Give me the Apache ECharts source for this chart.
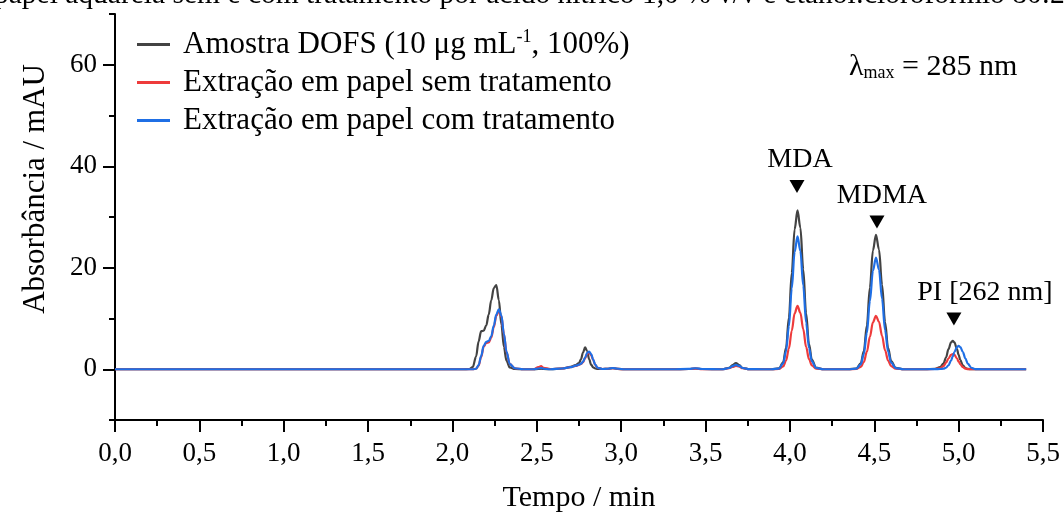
<!DOCTYPE html>
<html>
<head>
<meta charset="utf-8">
<script src="https://cdn.jsdelivr.net/npm/echarts@6/dist/echarts.min.js"></script>
<style>
  html, body { margin: 0; padding: 0; background: #ffffff; }
  #chart { width: 1064px; height: 514px; }
</style>
</head>
<body>
<div id="chart"></div>
<script>
// Retention times (min) shared by the three chromatograms
const times = [
  0, 0.5, 1.0, 1.5, 2.0, 2.06,
  2.10, 2.12, 2.14, 2.155, 2.17, 2.185, 2.20, 2.215, 2.23, 2.245, 2.26, 2.275, 2.29, 2.305, 2.32, 2.34, 2.37, 2.42,
  2.48, 2.51, 2.525, 2.54, 2.58, 2.65, 2.70, 2.73, 2.75, 2.762, 2.774, 2.786, 2.798, 2.81, 2.822, 2.834, 2.846, 2.86, 2.89, 2.92, 2.95, 2.98, 3.02,
  3.30, 3.40, 3.44, 3.48, 3.60, 3.64, 3.66, 3.68, 3.70, 3.72, 3.76, 3.84,
  3.89, 3.935, 3.96, 3.977, 3.994, 4.011, 4.028, 4.045, 4.062, 4.079, 4.096, 4.113, 4.13, 4.155, 4.20,
  4.28, 4.345, 4.393, 4.42, 4.438, 4.456, 4.474, 4.492, 4.51, 4.528, 4.546, 4.564, 4.582, 4.60, 4.627, 4.675,
  4.80, 4.86, 4.89, 4.91, 4.925, 4.94, 4.955, 4.965, 4.975, 4.99, 5.0, 5.01, 5.025, 5.04, 5.055, 5.075, 5.10, 5.14, 5.20, 5.40
];

// Absorbance (mAU) – standard sample
const amostraDOFS = [
  0, 0, 0, 0, 0, 0,
  0.05, 0.4, 2.5, 5.5, 7.5, 7.6, 8.6, 10.8, 13.6, 16.0, 16.6, 13.6, 8.8, 4.4, 1.7, 0.35, 0.05, 0,
  0, 0.05, 0.1, 0.05, 0, 0.15, 0.45, 0.8, 1.2, 2.0, 3.3, 4.3, 3.6, 2.0, 0.9, 0.35, 0.15, 0.08, 0.05, 0.1, 0.2, 0.08, 0,
  0, 0.05, 0.15, 0.05, 0, 0.3, 0.8, 1.2, 0.8, 0.25, 0, 0,
  0, 0.16, 1.38, 4.23, 10.2, 19.0, 27.6, 31.3, 27.9, 19.7, 11.0, 5.0, 1.9, 0.31, 0,
  0, 0, 0.13, 1.17, 3.58, 8.61, 16.1, 23.4, 26.5, 23.6, 16.7, 9.3, 4.2, 1.6, 0.27, 0,
  0, 0.1, 0.4, 1.1, 2.3, 3.96, 5.3, 5.6, 5.3, 3.96, 2.83, 1.82, 0.76, 0.25, 0.06, 0.01, 0, 0, 0, 0
];

// Absorbance (mAU) – paper extraction without treatment
const semTratamento = [
  0, 0, 0, 0, 0, 0,
  0, 0, 0.1, 0.7, 2.4, 4.4, 5.2, 5.3, 6.2, 8.3, 10.5, 11.5, 10.4, 6.9, 3.4, 1.0, 0.2, 0,
  0, 0.4, 0.6, 0.3, 0.05, 0.15, 0.4, 0.65, 0.85, 1.05, 1.4, 2.2, 3.0, 3.3, 2.8, 1.8, 0.85, 0.3, 0.05, 0.1, 0.2, 0.08, 0,
  0, 0.05, 0.12, 0.03, 0, 0.2, 0.45, 0.65, 0.5, 0.2, 0, 0,
  0, 0.06, 0.55, 1.69, 4.06, 7.59, 11.0, 12.5, 11.1, 7.9, 4.4, 2.0, 0.75, 0.13, 0,
  0, 0, 0.05, 0.46, 1.42, 3.41, 6.37, 9.26, 10.5, 9.35, 6.6, 3.7, 1.7, 0.63, 0.1, 0,
  0, 0.05, 0.2, 0.6, 1.25, 2.12, 2.84, 3.0, 2.84, 2.12, 1.52, 0.98, 0.41, 0.13, 0.03, 0, 0, 0, 0, 0
];

// Absorbance (mAU) – paper extraction with treatment
const comTratamento = [
  0, 0, 0, 0, 0, 0,
  0, 0, 0.1, 0.8, 2.6, 4.6, 5.4, 5.6, 6.5, 8.6, 10.8, 11.8, 10.6, 7.0, 3.5, 1.0, 0.2, 0,
  0, 0.15, 0.25, 0.1, 0, 0.15, 0.4, 0.7, 0.9, 1.1, 1.5, 2.3, 3.2, 3.5, 3.0, 1.9, 0.9, 0.3, 0.05, 0.1, 0.25, 0.1, 0,
  0, 0.08, 0.2, 0.05, 0, 0.25, 0.6, 0.85, 0.65, 0.25, 0.02, 0,
  0, 0.13, 1.15, 3.54, 8.5, 15.9, 23.1, 26.2, 23.3, 16.5, 9.2, 4.2, 1.57, 0.26, 0,
  0, 0, 0.11, 0.97, 2.97, 7.15, 13.4, 19.4, 22.0, 19.6, 13.9, 7.7, 3.5, 1.3, 0.22, 0,
  0, 0.02, 0.05, 0.12, 0.3, 0.79, 1.7, 2.53, 3.4, 4.38, 4.6, 4.38, 3.4, 2.1, 1.05, 0.3, 0.03, 0, 0, 0
];

const seriesNames = [
  'Amostra DOFS (10 μg mL-1, 100%)',
  'Extração em papel sem tratamento',
  'Extração em papel com tratamento'
];
const seriesColors = ['#434343', '#ee3b3b', '#1f6fe5'];

const yTickValues = [0, 20, 40, 60];
const yMinorTickValues = [-10, 10, 30, 50, 70];

// Identified compounds and where their markers sit (time, mAU)
const peakLabels = ['MDA', 'MDMA', 'PI [262 nm]'];
const peakMarkTimes = [4.042, 4.516, 4.972];
const peakMarkLevels = [36.0, 29.0, 9.9];

const titleText = 'papel aquarela sem e com tratamento por ácido nítrico 1,0 % v/v e etanol:clorofórmio 80:20';

const FONT = '"Liberation Serif", "Times New Roman", serif';
const labelShift = [3, 5, 31];

const pairs = arr => times.map((t, i) => [t, arr[i]]);
const chromData = [amostraDOFS, semTratamento, comTratamento];

const chart = echarts.init(document.getElementById('chart'), null, { renderer: 'canvas' });

const lineSeries = seriesNames.map((name, k) => ({
  name: name,
  type: 'line',
  data: pairs(chromData[k]),
  showSymbol: false,
  smooth: 0.35,
  smoothMonotone: 'x',
  lineStyle: { color: seriesColors[k], width: 2.2 },
  itemStyle: { color: seriesColors[k] },
  z: 2 + k
}));

const markLabelStyle = {
  show: true,
  position: 'top',
  distance: 6,
  color: '#000',
  opacity: 1,
  textBorderWidth: 0,
  fontFamily: FONT,
  fontSize: 28
};

const markerSeries = {
  name: 'picos',
  type: 'scatter',
  silent: true,
  symbol: 'triangle',
  symbolRotate: 180,
  symbolSize: [15, 13],
  itemStyle: { color: '#000', opacity: 1 },
  z: 10,
  data: peakLabels.map((lab, i) => ({
    value: [peakMarkTimes[i], peakMarkLevels[i]],
    label: Object.assign({}, markLabelStyle, { formatter: lab, offset: [labelShift[i], 0] })
  })),
  label: markLabelStyle
};

chart.setOption({
  animation: false,
  backgroundColor: '#ffffff',
  grid: { left: 115, right: 21, top: 14, bottom: 94, containLabel: false, outerBoundsMode: 'none' },
  legend: {
    data: seriesNames,
    orient: 'vertical',
    left: 137,
    top: 28,
    padding: 0,
    itemGap: 7,
    itemWidth: 33,
    itemHeight: 3,
    icon: 'rect',
    formatter: name => '{a|' + name.replace('mL-1', 'mL}{s|-1}{a|') + '}',
    textStyle: {
      color: '#000',
      fontFamily: FONT,
      fontSize: 31,
      padding: [0, 0, 0, 8],
      rich: {
        a: { fontFamily: FONT, fontSize: 31, color: '#000', lineHeight: 30 },
        s: { fontFamily: FONT, fontSize: 18, color: '#000', padding: [0, 0, 15, 0] }
      }
    }
  },
  xAxis: {
    type: 'value',
    min: 0,
    max: 5.5,
    interval: 0.5,
    name: 'Tempo / min',
    nameLocation: 'middle',
    nameGap: 63,
    nameTextStyle: { color: '#000', fontFamily: FONT, fontSize: 30 },
    axisLine: { show: true, onZero: false, lineStyle: { color: '#000', width: 2 } },
    axisTick: { show: true, length: 12, lineStyle: { color: '#000', width: 2 } },
    minorTick: { show: true, splitNumber: 2, length: 6, lineStyle: { color: '#000', width: 2 } },
    axisLabel: {
      color: '#000', fontFamily: FONT, fontSize: 27, margin: 20,
      formatter: v => v.toFixed(1).replace('.', ',')
    },
    splitLine: { show: false },
    minorSplitLine: { show: false }
  },
  yAxis: [
    {
      type: 'value',
      min: -10,
      max: 70,
      name: 'Absorbância / mAU',
      nameLocation: 'middle',
      nameGap: 64,
      nameTextStyle: { color: '#000', fontFamily: FONT, fontSize: 31, padding: [0, 0, 0, 56] },
      axisLine: { show: true, onZero: false, lineStyle: { color: '#000', width: 2 } },
      axisTick: { show: true, length: 12, customValues: yTickValues, lineStyle: { color: '#000', width: 2 } },
      axisLabel: {
        color: '#000', fontFamily: FONT, fontSize: 27, margin: 18,
        customValues: yTickValues
      },
      splitLine: { show: false }
    },
    {
      type: 'value',
      min: -10,
      max: 70,
      position: 'left',
      axisLine: { show: false },
      axisTick: { show: true, length: 6, customValues: yMinorTickValues, lineStyle: { color: '#000', width: 2 } },
      axisLabel: { show: false },
      splitLine: { show: false }
    }
  ],
  series: lineSeries.concat([markerSeries]),
  graphic: [
    {
      type: 'text',
      left: -6,
      top: -20,
      silent: true,
      style: { text: titleText, fill: '#000', font: '29.5px ' + FONT }
    },
    {
      type: 'text',
      left: 849,
      top: 52,
      silent: true,
      style: {
        text: '{l|λ}{sub|max}{l| = 285 nm}',
        rich: {
          l: { fontFamily: FONT, fontSize: 30, fill: '#000', color: '#000' },
          sub: { fontFamily: FONT, fontSize: 18, fill: '#000', color: '#000', padding: [12, 0, 0, 0] }
        }
      }
    }
  ]
});
</script>
</body>
</html>
